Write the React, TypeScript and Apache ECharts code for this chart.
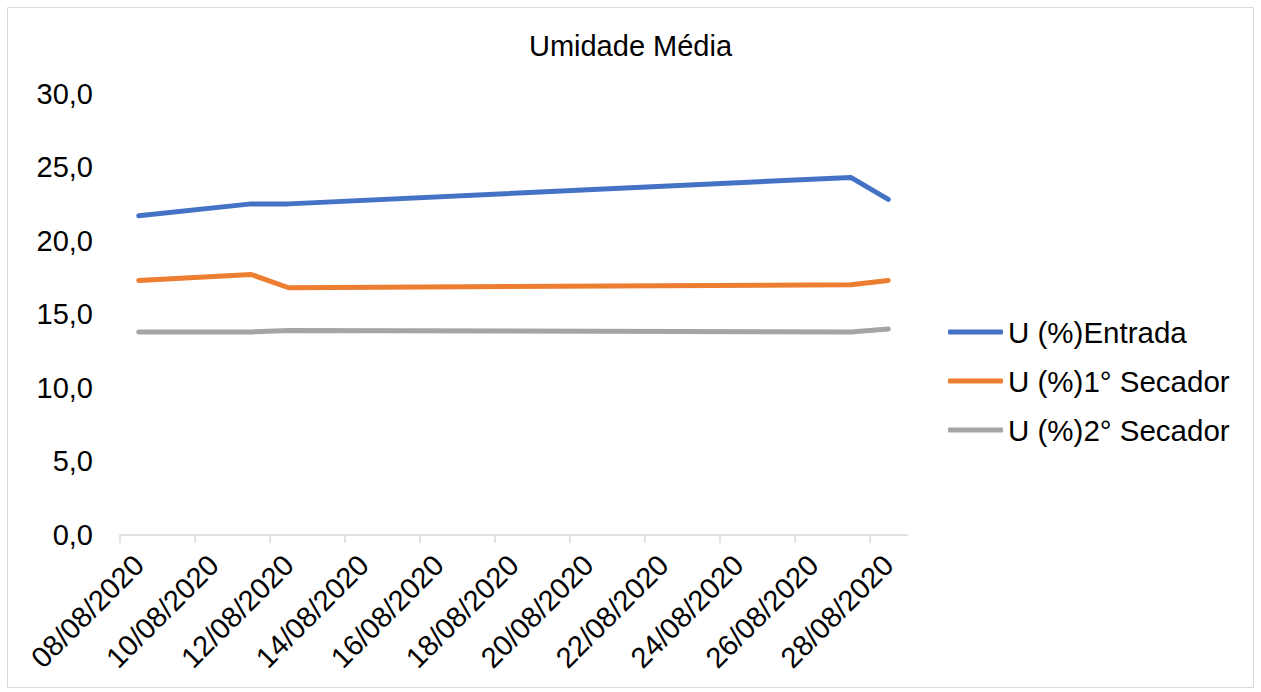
import React, { useEffect, useRef } from "react";
import * as echarts from "echarts";

// Daily categories on the x axis (08/08/2020 … 28/08/2020)
const days: string[] = [
  "08/08/2020", "09/08/2020", "10/08/2020", "11/08/2020", "12/08/2020",
  "13/08/2020", "14/08/2020", "15/08/2020", "16/08/2020", "17/08/2020",
  "18/08/2020", "19/08/2020", "20/08/2020", "21/08/2020", "22/08/2020",
  "23/08/2020", "24/08/2020", "25/08/2020", "26/08/2020", "27/08/2020",
  "28/08/2020",
];

// Measurement dates
const sampleDates: string[] = ["08/08/2020", "11/08/2020", "12/08/2020", "27/08/2020", "28/08/2020"];

// Average moisture (%) per measurement date
const entrada: number[] = [21.7, 22.5, 22.5, 24.3, 22.8];
const secador1: number[] = [17.3, 17.7, 16.8, 17.0, 17.3];
const secador2: number[] = [13.8, 13.8, 13.9, 13.8, 14.0];

const seriesNames: string[] = ["U (%)Entrada", "U (%)1° Secador", "U (%)2° Secador"];
const seriesColors: string[] = ["#4472C4", "#ED7D31", "#A5A5A5"];

// Tick marks sit on day boundaries, every second day
const tickBoundaries: number[] = [0, 2, 4, 6, 8, 10, 12, 14, 16, 18, 20];

const FONT = "Liberation Sans, Arial, sans-serif";

function spread(values: number[]): (number | null)[] {
  return days.map((d) => {
    const i = sampleDates.indexOf(d);
    return i >= 0 ? values[i] : null;
  });
}

export default function App() {
  const ref = useRef<HTMLDivElement>(null);

  useEffect(() => {
    if (!ref.current) return;
    const chart = echarts.init(ref.current, undefined, { renderer: "svg" });
    const all = [entrada, secador1, secador2];

    chart.setOption({
      animation: false,
      backgroundColor: "#ffffff",
      title: {
        text: "Umidade Média",
        left: "center",
        top: 31,
        padding: 0,
        textStyle: { fontFamily: FONT, fontSize: 29, fontWeight: "normal", color: "#000000" },
      },
      graphic: [
        {
          type: "rect",
          shape: { x: 7.5, y: 7.5, width: 1246, height: 680 },
          style: { fill: "none", stroke: "#d9d9d9", lineWidth: 1 },
          silent: true,
        },
      ],
      legend: {
        orient: "vertical",
        left: 948,
        top: 317,
        padding: 0,
        itemWidth: 55,
        itemHeight: 5,
        itemGap: 19,
        icon: "roundRect",
        textStyle: { fontFamily: FONT, fontSize: 29.5, color: "#000000" },
        data: seriesNames,
      },
      grid: { left: 120, right: 354, top: 93.5, bottom: 157, containLabel: false },
      xAxis: [
        {
          type: "category",
          data: days,
          boundaryGap: true,
          axisLine: { show: true, lineStyle: { color: "#d9d9d9", width: 1.5 } },
          axisTick: { show: false },
          axisLabel: {
            interval: 1,
            rotate: 45,
            margin: 25,
            fontFamily: FONT,
            fontSize: 29,
            color: "#000000",
          },
          splitLine: { show: false },
        },
        {
          // overlay axis carrying only the tick marks
          type: "value",
          position: "bottom",
          min: 0,
          max: days.length,
          axisLine: { show: false },
          axisLabel: { show: false },
          splitLine: { show: false },
          axisTick: {
            show: true,
            length: 8,
            customValues: tickBoundaries,
            lineStyle: { color: "#d9d9d9", width: 1.5 },
          },
        },
      ],
      yAxis: {
        type: "value",
        min: 0,
        max: 30,
        interval: 5,
        axisLine: { show: false },
        axisTick: { show: false },
        splitLine: { show: false },
        axisLabel: {
          margin: 27,
          fontFamily: FONT,
          fontSize: 29,
          color: "#000000",
          formatter: (v: number) => v.toFixed(1).replace(".", ","),
        },
      },
      series: all.map((vals, i) => ({
        name: seriesNames[i],
        type: "line",
        xAxisIndex: 0,
        data: spread(vals),
        connectNulls: true,
        showSymbol: false,
        symbol: "none",
        color: seriesColors[i],
        lineStyle: { color: seriesColors[i], width: 5, cap: "round", join: "round" },
      })),
    });

    return () => chart.dispose();
  }, []);

  return (
    <div
      ref={ref}
      style={{ position: "fixed", left: 0, top: 0, width: 1261, height: 692, background: "#fff" }}
    />
  );
}
